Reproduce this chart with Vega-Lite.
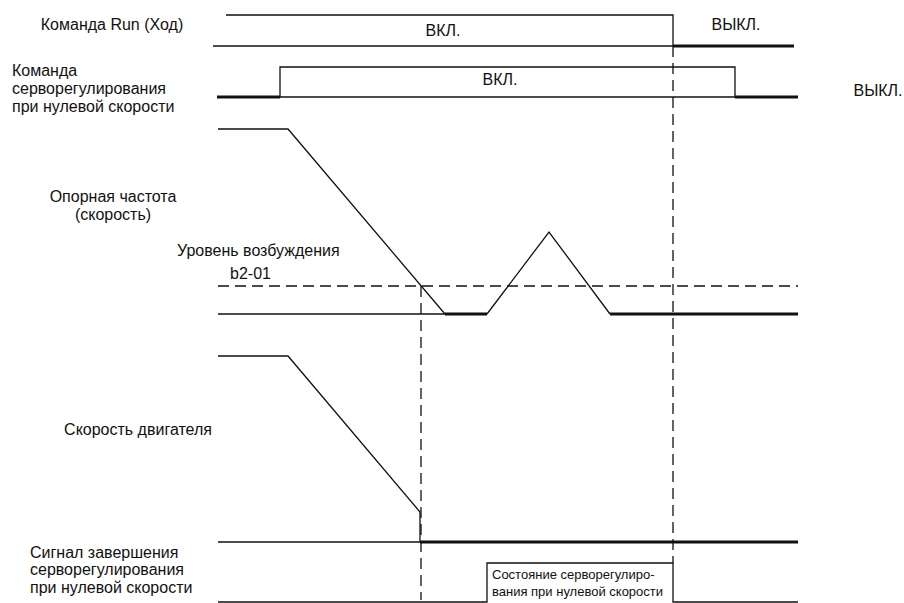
{
  "$schema": "https://vega.github.io/schema/vega-lite/v6.json",
  "width": 904,
  "height": 603,
  "padding": 0,
  "autosize": {"type": "none"},
  "background": "white",
  "config": {"view": {"stroke": null}, "axis": {"disable": true}},
  "datasets": {
    "traces": [
      {"part": "signal", "seg": "run-on", "i": 0, "t": 226, "v": 15},
      {"part": "signal", "seg": "run-on", "i": 1, "t": 673, "v": 15},
      {"part": "signal", "seg": "run-on", "i": 2, "t": 673, "v": 46},
      {"part": "signal", "seg": "run-base", "i": 0, "t": 213, "v": 46},
      {"part": "signal", "seg": "run-base", "i": 1, "t": 673, "v": 46},
      {"part": "signal", "seg": "servo-on", "i": 0, "t": 280, "v": 97},
      {"part": "signal", "seg": "servo-on", "i": 1, "t": 280, "v": 67},
      {"part": "signal", "seg": "servo-on", "i": 2, "t": 735, "v": 67},
      {"part": "signal", "seg": "servo-on", "i": 3, "t": 735, "v": 97},
      {"part": "signal", "seg": "servo-base", "i": 0, "t": 280, "v": 97},
      {"part": "signal", "seg": "servo-base", "i": 1, "t": 735, "v": 97},
      {"part": "signal", "seg": "ref-fall", "i": 0, "t": 218, "v": 129},
      {"part": "signal", "seg": "ref-fall", "i": 1, "t": 288, "v": 129},
      {"part": "signal", "seg": "ref-fall", "i": 2, "t": 445, "v": 314},
      {"part": "signal", "seg": "ref-peak", "i": 0, "t": 487, "v": 314},
      {"part": "signal", "seg": "ref-peak", "i": 1, "t": 549, "v": 232},
      {"part": "signal", "seg": "ref-peak", "i": 2, "t": 610, "v": 314},
      {"part": "signal", "seg": "ref-base", "i": 0, "t": 218, "v": 314},
      {"part": "signal", "seg": "ref-base", "i": 1, "t": 445, "v": 314},
      {"part": "signal", "seg": "motor", "i": 0, "t": 218, "v": 356},
      {"part": "signal", "seg": "motor", "i": 1, "t": 288, "v": 356},
      {"part": "signal", "seg": "motor", "i": 2, "t": 420, "v": 512},
      {"part": "signal", "seg": "motor", "i": 3, "t": 420, "v": 542},
      {"part": "signal", "seg": "motor-base", "i": 0, "t": 218, "v": 542},
      {"part": "signal", "seg": "motor-base", "i": 1, "t": 420, "v": 542},
      {"part": "signal", "seg": "end", "i": 0, "t": 218, "v": 602},
      {"part": "signal", "seg": "end", "i": 1, "t": 487, "v": 602},
      {"part": "signal", "seg": "end", "i": 2, "t": 487, "v": 563},
      {"part": "signal", "seg": "end", "i": 3, "t": 673, "v": 563},
      {"part": "signal", "seg": "end", "i": 4, "t": 673, "v": 602},
      {"part": "signal", "seg": "end", "i": 5, "t": 798, "v": 602},
      {"part": "zero", "seg": "run-off", "i": 0, "t": 673, "v": 46},
      {"part": "zero", "seg": "run-off", "i": 1, "t": 794, "v": 46},
      {"part": "zero", "seg": "servo-off1", "i": 0, "t": 217, "v": 97},
      {"part": "zero", "seg": "servo-off1", "i": 1, "t": 280, "v": 97},
      {"part": "zero", "seg": "servo-off2", "i": 0, "t": 735, "v": 97},
      {"part": "zero", "seg": "servo-off2", "i": 1, "t": 798, "v": 97},
      {"part": "zero", "seg": "ref-zero1", "i": 0, "t": 445, "v": 314},
      {"part": "zero", "seg": "ref-zero1", "i": 1, "t": 487, "v": 314},
      {"part": "zero", "seg": "ref-zero2", "i": 0, "t": 610, "v": 314},
      {"part": "zero", "seg": "ref-zero2", "i": 1, "t": 798, "v": 314},
      {"part": "zero", "seg": "motor-zero", "i": 0, "t": 420, "v": 542},
      {"part": "zero", "seg": "motor-zero", "i": 1, "t": 798, "v": 542},
      {"part": "guide", "seg": "level", "i": 0, "t": 218, "v": 286},
      {"part": "guide", "seg": "level", "i": 1, "t": 798, "v": 286},
      {"part": "guide", "seg": "t1", "i": 0, "t": 421, "v": 286},
      {"part": "guide", "seg": "t1", "i": 1, "t": 421, "v": 600},
      {"part": "guide", "seg": "t2", "i": 0, "t": 673, "v": 46},
      {"part": "guide", "seg": "t2", "i": 1, "t": 673, "v": 563}
    ],
    "labelsCenter": [
      {"text": "Команда Run (Ход)", "t": 112, "v": 25},
      {"text": "ВКЛ.", "t": 443, "v": 31},
      {"text": "ВЫКЛ.", "t": 736, "v": 25},
      {"text": "ВКЛ.", "t": 500, "v": 80},
      {"text": "ВЫКЛ.", "t": 878, "v": 91},
      {"text": "Опорная частота", "t": 113, "v": 197},
      {"text": "(скорость)", "t": 113, "v": 215},
      {"text": "Скорость двигателя", "t": 138, "v": 430}
    ],
    "labelsLeft": [
      {"text": "Команда", "t": 12, "v": 71},
      {"text": "серворегулирования", "t": 12, "v": 89},
      {"text": "при нулевой скорости", "t": 12, "v": 107},
      {"text": "Уровень возбуждения", "t": 177, "v": 251},
      {"text": "b2-01", "t": 230, "v": 274},
      {"text": "Сигнал завершения", "t": 30, "v": 553},
      {"text": "серворегулирования", "t": 30, "v": 570},
      {"text": "при нулевой скорости", "t": 30, "v": 588}
    ],
    "boxText": [
      {"text": "Состояние серворегулиро-", "t": 492, "v": 575},
      {"text": "вания при нулевой скорости", "t": 492, "v": 592}
    ]
  },
  "encoding": {
    "x": {"field": "t", "type": "quantitative", "scale": {"domain": [0, 904], "nice": false, "zero": false}, "axis": null},
    "y": {"field": "v", "type": "quantitative", "scale": {"domain": [0, 603], "nice": false, "zero": false, "reverse": true}, "axis": null}
  },
  "layer": [
    {
      "data": {"name": "traces"},
      "transform": [{"filter": "datum.part === 'signal'"}],
      "mark": {"type": "line", "color": "#111111", "strokeWidth": 1.3, "strokeJoin": "miter"},
      "encoding": {"detail": {"field": "seg"}, "order": {"field": "i", "type": "quantitative"}}
    },
    {
      "data": {"name": "traces"},
      "transform": [{"filter": "datum.part === 'zero'"}],
      "mark": {"type": "line", "color": "#111111", "strokeWidth": 2.8},
      "encoding": {"detail": {"field": "seg"}, "order": {"field": "i", "type": "quantitative"}}
    },
    {
      "data": {"name": "traces"},
      "transform": [{"filter": "datum.part === 'guide'"}],
      "mark": {"type": "line", "color": "#111111", "strokeWidth": 1.3, "strokeDash": [11, 6]},
      "encoding": {"detail": {"field": "seg"}, "order": {"field": "i", "type": "quantitative"}}
    },
    {
      "data": {"name": "labelsCenter"},
      "mark": {"type": "text", "align": "center", "baseline": "middle", "font": "Liberation Sans", "fontSize": 16, "color": "#111111"},
      "encoding": {"text": {"field": "text"}}
    },
    {
      "data": {"name": "labelsLeft"},
      "mark": {"type": "text", "align": "left", "baseline": "middle", "font": "Liberation Sans", "fontSize": 16, "color": "#111111"},
      "encoding": {"text": {"field": "text"}}
    },
    {
      "data": {"name": "boxText"},
      "mark": {"type": "text", "align": "left", "baseline": "middle", "font": "Liberation Sans", "fontSize": 13, "color": "#111111"},
      "encoding": {"text": {"field": "text"}}
    }
  ]
}
